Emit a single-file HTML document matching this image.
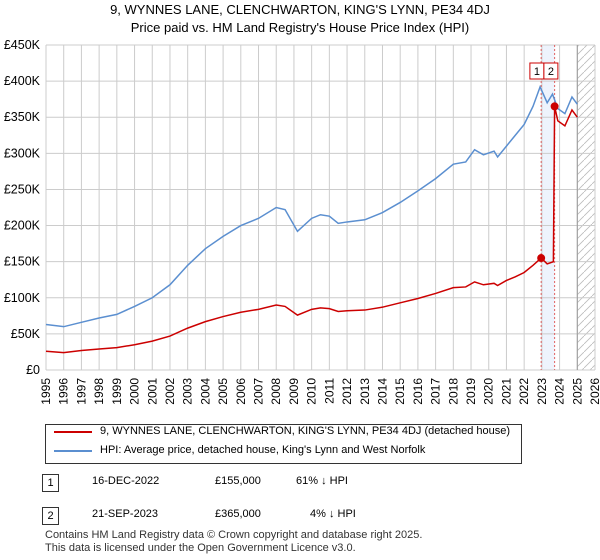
<!DOCTYPE html>
<html><head><meta charset="utf-8"><style>
body{margin:0;background:#fff;font-family:"Liberation Sans","DejaVu Sans",sans-serif;}
#c{position:relative;width:600px;height:560px;overflow:hidden}
.t{position:absolute;font-size:12.5px;color:#000;white-space:nowrap}
</style></head><body><div id="c">
<div class="t" style="left:0;width:600px;text-align:center;top:2px;font-size:13px">9, WYNNES LANE, CLENCHWARTON, KING'S LYNN, PE34 4DJ</div>
<div class="t" style="left:0;width:600px;text-align:center;top:20px;font-size:13px">Price paid vs. HM Land Registry's House Price Index (HPI)</div>
<svg id="s" width="600" height="420" style="position:absolute;left:0;top:0"></svg>
<div style="position:absolute;left:45px;top:424px;width:475px;height:38px;border:1px solid #333;font-size:11px">
<div style="position:absolute;left:8px;top:6px;width:38px;height:2px;background:#cc0000"></div>
<div class="t" style="left:54px;top:0px;font-size:11px">9, WYNNES LANE, CLENCHWARTON, KING'S LYNN, PE34 4DJ (detached house)</div>
<div style="position:absolute;left:8px;top:25px;width:38px;height:2px;background:#5b8fd0"></div>
<div class="t" style="left:54px;top:19px;font-size:11px">HPI: Average price, detached house, King's Lynn and West Norfolk</div>
</div>
<div style="position:absolute;left:42px;top:474px;width:15px;height:16px;border:1px solid #333;font-size:11px;text-align:center;line-height:16px">1</div>
<div class="t" style="left:92px;top:475px;font-size:11px">16-DEC-2022</div>
<div class="t" style="left:215px;top:475px;font-size:11px">£155,000</div>
<div class="t" style="left:296px;top:475px;font-size:11px">61% ↓ HPI</div>
<div style="position:absolute;left:42px;top:507px;width:15px;height:16px;border:1px solid #333;font-size:11px;text-align:center;line-height:16px">2</div>
<div class="t" style="left:92px;top:508px;font-size:11px">21-SEP-2023</div>
<div class="t" style="left:215px;top:508px;font-size:11px">£365,000</div>
<div class="t" style="left:310px;top:508px;font-size:11px">4% ↓ HPI</div>
<div class="t" style="left:45px;top:529px;font-size:11px;color:#333">Contains HM Land Registry data © Crown copyright and database right 2025.</div>
<div class="t" style="left:45px;top:542px;font-size:11px;color:#333">This data is licensed under the Open Government Licence v3.0.</div>
</div>
<script>
const hpiYears=[1995,1996,1997,1998,1999,2000,2001,2002,2003,2004,2005,2006,2007,2008,2008.5,2009.2,2010,2010.5,2011,2011.5,2012,2013,2014,2015,2016,2017,2018,2018.7,2019.2,2019.7,2020.3,2020.5,2021,2021.5,2022,2022.5,2022.9,2023.3,2023.6,2023.9,2024.3,2024.7,2025];
const hpiValues=[63,60,66,72,77,88,100,118,145,168,185,200,210,225,222,192,210,215,213,203,205,208,218,232,248,265,285,288,305,298,303,295,310,325,340,365,392,370,382,362,355,378,368];
const redYears=[1995,1996,1997,1998,1999,2000,2001,2002,2003,2004,2005,2006,2007,2008,2008.5,2009.2,2010,2010.5,2011,2011.5,2012,2013,2014,2015,2016,2017,2018,2018.7,2019.2,2019.7,2020.3,2020.5,2021,2021.5,2022,2022.5,2022.96,2023.3,2023.65,2023.72,2023.9,2024.3,2024.7,2025];
const redValues=[26,24,27,29,31,35,40,47,58,67,74,80,84,90,88,76,84,86,85,81,82,83,87,93,99,106,114,115,122,118,120,117,124,129,135,145,155,147,150,365,345,338,360,350];
const saleYears=[2022.96,2023.72];
const saleValues=[155,365];
const saleLabels=["1","2"];
const yTicks=[0,50,100,150,200,250,300,350,400,450];
const xTicks=[1995,1996,1997,1998,1999,2000,2001,2002,2003,2004,2005,2006,2007,2008,2009,2010,2011,2012,2013,2014,2015,2016,2017,2018,2019,2020,2021,2022,2023,2024,2025,2026];
const L=46,R=595,T=45,B=370;
const x=v=>L+(v-1995)*(R-L)/31, y=v=>B-v*(B-T)/450;
const s=document.getElementById('s'),NS='http://www.w3.org/2000/svg';
function add(tag,at,txt){const e=document.createElementNS(NS,tag);for(const k in at)e.setAttribute(k,at[k]);if(txt!=null)e.textContent=txt;s.appendChild(e);return e;}
let e;
e=add('rect',{x:x(saleYears[0]),y:T,width:x(saleYears[1])-x(saleYears[0]),height:B-T,fill:'#eef3fc'});


const defs=add('defs',{});defs.innerHTML='<pattern id="h" width="8" height="8" patternUnits="userSpaceOnUse"><path d="M0 8L8 0" stroke="#bbb" stroke-width="0.8"/></pattern>';
e=add('rect',{x:x(2025),y:T,width:R-x(2025),height:B-T,fill:'url(#h)'});


xTicks.forEach(t=>{e=add('line',{x1:x(t),x2:x(t),y1:T,y2:B,stroke:'#ccc'});


e=add('text',{x:0,y:0,transform:`translate(${x(t)+4},${B+8}) rotate(-90)`,'text-anchor':'end','font-size':12,fill:'#000'},String(t));

});
yTicks.forEach(t=>{e=add('line',{x1:L,x2:R,y1:y(t),y2:y(t),stroke:'#ccc'});


e=add('text',{x:L-6,y:y(t)+4,'text-anchor':'end','font-size':12.5,fill:'#000'},t===0?'£0':'£'+t+'K');

});
e=add('line',{x1:x(2025),x2:x(2025),y1:T,y2:B,stroke:'#999'});


saleYears.forEach(v=>{e=add('line',{x1:x(v),x2:x(v),y1:T,y2:B,stroke:'#e06060','stroke-dasharray':'2,2'});

});
e=add('polyline',{points:hpiYears.map((v,i)=>x(v)+','+y(hpiValues[i])).join(' '),fill:'none',stroke:'#5b8fd0','stroke-width':1.5});


e=add('polyline',{points:redYears.map((v,i)=>x(v)+','+y(redValues[i])).join(' '),fill:'none',stroke:'#cc0000','stroke-width':1.5});


const mid=(x(saleYears[0])+x(saleYears[1]))/2;
saleYears.forEach((v,i)=>{e=add('circle',{cx:x(v),cy:y(saleValues[i]),r:4,fill:'#cc0000'});


const bx=mid-18+i*14;
e=add('rect',{x:bx,y:63,width:14,height:16,fill:'#fff',stroke:'#cc0000'});


e=add('text',{x:bx+7,y:75,'text-anchor':'middle','font-size':11},saleLabels[i]);

});
</script></body></html>
